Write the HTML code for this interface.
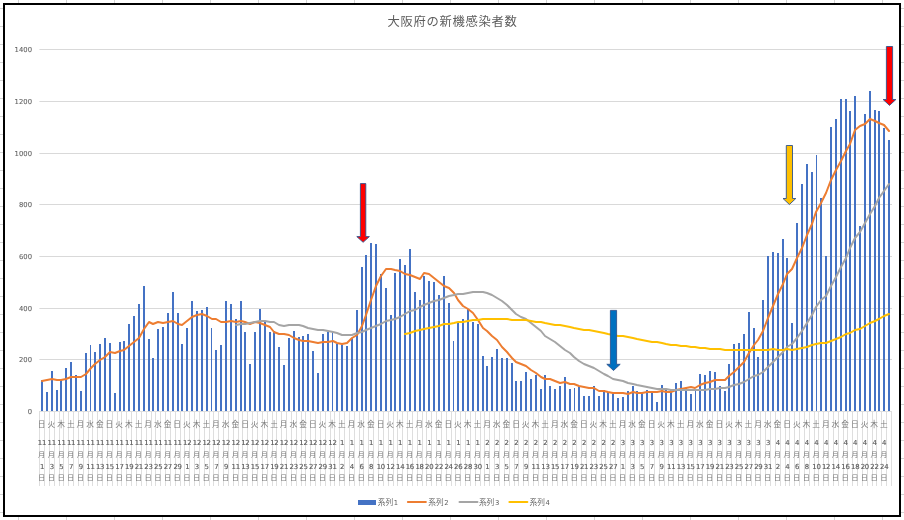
<!DOCTYPE html>
<html lang="ja"><head><meta charset="utf-8"><title>大阪府の新機感染者数</title>
<style>
html,body{margin:0;padding:0;background:#fff;}
body{width:904px;height:520px;overflow:hidden;position:relative;font-family:"Liberation Sans","Noto Sans CJK JP",sans-serif;}
svg text{font-family:"Liberation Sans","Noto Sans CJK JP",sans-serif;fill:#595959;}
.yl{font-family:"DejaVu Sans","Liberation Sans",sans-serif;font-size:6.8px;letter-spacing:0.1px;fill:#606060;stroke:#606060;stroke-width:0.08px;}
.xl text{font-family:"DejaVu Sans","Liberation Sans",sans-serif;font-size:6.9px;letter-spacing:-0.2px;fill:#5c5c5c;stroke:#5c5c5c;stroke-width:0.15px;}
.xl .k{font-family:"Liberation Sans","Noto Sans CJK JP",sans-serif;font-size:7.7px;letter-spacing:0;fill:#7a7a7a;stroke:none;}
.ti{font-size:12.3px;letter-spacing:0.68px;fill:#5c5c5c;}
.xl .s{font-size:7.3px;fill:#7c7c7c;}
.lg{font-size:7.7px;fill:#666;}
.ld{font-family:"DejaVu Sans","Liberation Sans",sans-serif;font-size:6.8px;fill:#606060;}
</style></head><body>
<svg width="904" height="520" viewBox="0 0 904 520" style="position:absolute;left:0;top:0">
<g fill="#d4d4d4" shape-rendering="crispEdges"><rect x="18" y="0" width="1" height="3"/><rect x="18" y="517" width="1" height="3"/><rect x="66" y="0" width="1" height="3"/><rect x="66" y="517" width="1" height="3"/><rect x="114" y="0" width="1" height="3"/><rect x="114" y="517" width="1" height="3"/><rect x="162" y="0" width="1" height="3"/><rect x="162" y="517" width="1" height="3"/><rect x="210" y="0" width="1" height="3"/><rect x="210" y="517" width="1" height="3"/><rect x="258" y="0" width="1" height="3"/><rect x="258" y="517" width="1" height="3"/><rect x="306" y="0" width="1" height="3"/><rect x="306" y="517" width="1" height="3"/><rect x="354" y="0" width="1" height="3"/><rect x="354" y="517" width="1" height="3"/><rect x="402" y="0" width="1" height="3"/><rect x="402" y="517" width="1" height="3"/><rect x="450" y="0" width="1" height="3"/><rect x="450" y="517" width="1" height="3"/><rect x="498" y="0" width="1" height="3"/><rect x="498" y="517" width="1" height="3"/><rect x="546" y="0" width="1" height="3"/><rect x="546" y="517" width="1" height="3"/><rect x="594" y="0" width="1" height="3"/><rect x="594" y="517" width="1" height="3"/><rect x="642" y="0" width="1" height="3"/><rect x="642" y="517" width="1" height="3"/><rect x="690" y="0" width="1" height="3"/><rect x="690" y="517" width="1" height="3"/><rect x="738" y="0" width="1" height="3"/><rect x="738" y="517" width="1" height="3"/><rect x="786" y="0" width="1" height="3"/><rect x="786" y="517" width="1" height="3"/><rect x="834" y="0" width="1" height="3"/><rect x="834" y="517" width="1" height="3"/><rect x="882" y="0" width="1" height="3"/><rect x="882" y="517" width="1" height="3"/><rect x="0" y="8" width="3" height="1"/><rect x="901" y="8" width="3" height="1"/><rect x="0" y="26" width="3" height="1"/><rect x="901" y="26" width="3" height="1"/><rect x="0" y="44" width="3" height="1"/><rect x="901" y="44" width="3" height="1"/><rect x="0" y="62" width="3" height="1"/><rect x="901" y="62" width="3" height="1"/><rect x="0" y="80" width="3" height="1"/><rect x="901" y="80" width="3" height="1"/><rect x="0" y="98" width="3" height="1"/><rect x="901" y="98" width="3" height="1"/><rect x="0" y="116" width="3" height="1"/><rect x="901" y="116" width="3" height="1"/><rect x="0" y="134" width="3" height="1"/><rect x="901" y="134" width="3" height="1"/><rect x="0" y="152" width="3" height="1"/><rect x="901" y="152" width="3" height="1"/><rect x="0" y="170" width="3" height="1"/><rect x="901" y="170" width="3" height="1"/><rect x="0" y="188" width="3" height="1"/><rect x="901" y="188" width="3" height="1"/><rect x="0" y="206" width="3" height="1"/><rect x="901" y="206" width="3" height="1"/><rect x="0" y="224" width="3" height="1"/><rect x="901" y="224" width="3" height="1"/><rect x="0" y="242" width="3" height="1"/><rect x="901" y="242" width="3" height="1"/><rect x="0" y="260" width="3" height="1"/><rect x="901" y="260" width="3" height="1"/><rect x="0" y="278" width="3" height="1"/><rect x="901" y="278" width="3" height="1"/><rect x="0" y="296" width="3" height="1"/><rect x="901" y="296" width="3" height="1"/><rect x="0" y="314" width="3" height="1"/><rect x="901" y="314" width="3" height="1"/><rect x="0" y="332" width="3" height="1"/><rect x="901" y="332" width="3" height="1"/><rect x="0" y="350" width="3" height="1"/><rect x="901" y="350" width="3" height="1"/><rect x="0" y="368" width="3" height="1"/><rect x="901" y="368" width="3" height="1"/><rect x="0" y="386" width="3" height="1"/><rect x="901" y="386" width="3" height="1"/><rect x="0" y="404" width="3" height="1"/><rect x="901" y="404" width="3" height="1"/><rect x="0" y="422" width="3" height="1"/><rect x="901" y="422" width="3" height="1"/><rect x="0" y="440" width="3" height="1"/><rect x="901" y="440" width="3" height="1"/><rect x="0" y="458" width="3" height="1"/><rect x="901" y="458" width="3" height="1"/><rect x="0" y="476" width="3" height="1"/><rect x="901" y="476" width="3" height="1"/><rect x="0" y="494" width="3" height="1"/><rect x="901" y="494" width="3" height="1"/><rect x="0" y="512" width="3" height="1"/><rect x="901" y="512" width="3" height="1"/></g>
<rect x="4" y="4" width="896" height="512" fill="#fff" stroke="#000" stroke-width="2" shape-rendering="crispEdges"/>
<g fill="#d9d9d9"><rect x="39.4" y="359" width="852.6" height="1"/><rect x="39.4" y="308" width="852.6" height="1"/><rect x="39.4" y="256" width="852.6" height="1"/><rect x="39.4" y="204" width="852.6" height="1"/><rect x="39.4" y="153" width="852.6" height="1"/><rect x="39.4" y="101" width="852.6" height="1"/><rect x="39.4" y="49" width="852.6" height="1"/></g>
<g fill="#dedede" shape-rendering="crispEdges"><rect x="39" y="411" width="853" height="1"/><rect x="39" y="411" width="1" height="75"/><rect x="44" y="411" width="1" height="75"/><rect x="49" y="411" width="1" height="75"/><rect x="54" y="411" width="1" height="75"/><rect x="59" y="411" width="1" height="75"/><rect x="63" y="411" width="1" height="75"/><rect x="68" y="411" width="1" height="75"/><rect x="73" y="411" width="1" height="75"/><rect x="78" y="411" width="1" height="75"/><rect x="83" y="411" width="1" height="75"/><rect x="88" y="411" width="1" height="75"/><rect x="92" y="411" width="1" height="75"/><rect x="97" y="411" width="1" height="75"/><rect x="102" y="411" width="1" height="75"/><rect x="107" y="411" width="1" height="75"/><rect x="112" y="411" width="1" height="75"/><rect x="117" y="411" width="1" height="75"/><rect x="121" y="411" width="1" height="75"/><rect x="126" y="411" width="1" height="75"/><rect x="131" y="411" width="1" height="75"/><rect x="136" y="411" width="1" height="75"/><rect x="141" y="411" width="1" height="75"/><rect x="146" y="411" width="1" height="75"/><rect x="151" y="411" width="1" height="75"/><rect x="155" y="411" width="1" height="75"/><rect x="160" y="411" width="1" height="75"/><rect x="165" y="411" width="1" height="75"/><rect x="170" y="411" width="1" height="75"/><rect x="175" y="411" width="1" height="75"/><rect x="180" y="411" width="1" height="75"/><rect x="184" y="411" width="1" height="75"/><rect x="189" y="411" width="1" height="75"/><rect x="194" y="411" width="1" height="75"/><rect x="199" y="411" width="1" height="75"/><rect x="204" y="411" width="1" height="75"/><rect x="209" y="411" width="1" height="75"/><rect x="213" y="411" width="1" height="75"/><rect x="218" y="411" width="1" height="75"/><rect x="223" y="411" width="1" height="75"/><rect x="228" y="411" width="1" height="75"/><rect x="233" y="411" width="1" height="75"/><rect x="238" y="411" width="1" height="75"/><rect x="242" y="411" width="1" height="75"/><rect x="247" y="411" width="1" height="75"/><rect x="252" y="411" width="1" height="75"/><rect x="257" y="411" width="1" height="75"/><rect x="262" y="411" width="1" height="75"/><rect x="267" y="411" width="1" height="75"/><rect x="272" y="411" width="1" height="75"/><rect x="276" y="411" width="1" height="75"/><rect x="281" y="411" width="1" height="75"/><rect x="286" y="411" width="1" height="75"/><rect x="291" y="411" width="1" height="75"/><rect x="296" y="411" width="1" height="75"/><rect x="301" y="411" width="1" height="75"/><rect x="305" y="411" width="1" height="75"/><rect x="310" y="411" width="1" height="75"/><rect x="315" y="411" width="1" height="75"/><rect x="320" y="411" width="1" height="75"/><rect x="325" y="411" width="1" height="75"/><rect x="330" y="411" width="1" height="75"/><rect x="334" y="411" width="1" height="75"/><rect x="339" y="411" width="1" height="75"/><rect x="344" y="411" width="1" height="75"/><rect x="349" y="411" width="1" height="75"/><rect x="354" y="411" width="1" height="75"/><rect x="359" y="411" width="1" height="75"/><rect x="363" y="411" width="1" height="75"/><rect x="368" y="411" width="1" height="75"/><rect x="373" y="411" width="1" height="75"/><rect x="378" y="411" width="1" height="75"/><rect x="383" y="411" width="1" height="75"/><rect x="388" y="411" width="1" height="75"/><rect x="393" y="411" width="1" height="75"/><rect x="397" y="411" width="1" height="75"/><rect x="402" y="411" width="1" height="75"/><rect x="407" y="411" width="1" height="75"/><rect x="412" y="411" width="1" height="75"/><rect x="417" y="411" width="1" height="75"/><rect x="422" y="411" width="1" height="75"/><rect x="426" y="411" width="1" height="75"/><rect x="431" y="411" width="1" height="75"/><rect x="436" y="411" width="1" height="75"/><rect x="441" y="411" width="1" height="75"/><rect x="446" y="411" width="1" height="75"/><rect x="451" y="411" width="1" height="75"/><rect x="455" y="411" width="1" height="75"/><rect x="460" y="411" width="1" height="75"/><rect x="465" y="411" width="1" height="75"/><rect x="470" y="411" width="1" height="75"/><rect x="475" y="411" width="1" height="75"/><rect x="480" y="411" width="1" height="75"/><rect x="484" y="411" width="1" height="75"/><rect x="489" y="411" width="1" height="75"/><rect x="494" y="411" width="1" height="75"/><rect x="499" y="411" width="1" height="75"/><rect x="504" y="411" width="1" height="75"/><rect x="509" y="411" width="1" height="75"/><rect x="514" y="411" width="1" height="75"/><rect x="518" y="411" width="1" height="75"/><rect x="523" y="411" width="1" height="75"/><rect x="528" y="411" width="1" height="75"/><rect x="533" y="411" width="1" height="75"/><rect x="538" y="411" width="1" height="75"/><rect x="543" y="411" width="1" height="75"/><rect x="547" y="411" width="1" height="75"/><rect x="552" y="411" width="1" height="75"/><rect x="557" y="411" width="1" height="75"/><rect x="562" y="411" width="1" height="75"/><rect x="567" y="411" width="1" height="75"/><rect x="572" y="411" width="1" height="75"/><rect x="576" y="411" width="1" height="75"/><rect x="581" y="411" width="1" height="75"/><rect x="586" y="411" width="1" height="75"/><rect x="591" y="411" width="1" height="75"/><rect x="596" y="411" width="1" height="75"/><rect x="601" y="411" width="1" height="75"/><rect x="605" y="411" width="1" height="75"/><rect x="610" y="411" width="1" height="75"/><rect x="615" y="411" width="1" height="75"/><rect x="620" y="411" width="1" height="75"/><rect x="625" y="411" width="1" height="75"/><rect x="630" y="411" width="1" height="75"/><rect x="634" y="411" width="1" height="75"/><rect x="639" y="411" width="1" height="75"/><rect x="644" y="411" width="1" height="75"/><rect x="649" y="411" width="1" height="75"/><rect x="654" y="411" width="1" height="75"/><rect x="659" y="411" width="1" height="75"/><rect x="664" y="411" width="1" height="75"/><rect x="668" y="411" width="1" height="75"/><rect x="673" y="411" width="1" height="75"/><rect x="678" y="411" width="1" height="75"/><rect x="683" y="411" width="1" height="75"/><rect x="688" y="411" width="1" height="75"/><rect x="693" y="411" width="1" height="75"/><rect x="697" y="411" width="1" height="75"/><rect x="702" y="411" width="1" height="75"/><rect x="707" y="411" width="1" height="75"/><rect x="712" y="411" width="1" height="75"/><rect x="717" y="411" width="1" height="75"/><rect x="722" y="411" width="1" height="75"/><rect x="726" y="411" width="1" height="75"/><rect x="731" y="411" width="1" height="75"/><rect x="736" y="411" width="1" height="75"/><rect x="741" y="411" width="1" height="75"/><rect x="746" y="411" width="1" height="75"/><rect x="751" y="411" width="1" height="75"/><rect x="755" y="411" width="1" height="75"/><rect x="760" y="411" width="1" height="75"/><rect x="765" y="411" width="1" height="75"/><rect x="770" y="411" width="1" height="75"/><rect x="775" y="411" width="1" height="75"/><rect x="780" y="411" width="1" height="75"/><rect x="785" y="411" width="1" height="75"/><rect x="789" y="411" width="1" height="75"/><rect x="794" y="411" width="1" height="75"/><rect x="799" y="411" width="1" height="75"/><rect x="804" y="411" width="1" height="75"/><rect x="809" y="411" width="1" height="75"/><rect x="814" y="411" width="1" height="75"/><rect x="818" y="411" width="1" height="75"/><rect x="823" y="411" width="1" height="75"/><rect x="828" y="411" width="1" height="75"/><rect x="833" y="411" width="1" height="75"/><rect x="838" y="411" width="1" height="75"/><rect x="843" y="411" width="1" height="75"/><rect x="847" y="411" width="1" height="75"/><rect x="852" y="411" width="1" height="75"/><rect x="857" y="411" width="1" height="75"/><rect x="862" y="411" width="1" height="75"/><rect x="867" y="411" width="1" height="75"/><rect x="872" y="411" width="1" height="75"/><rect x="876" y="411" width="1" height="75"/><rect x="881" y="411" width="1" height="75"/><rect x="886" y="411" width="1" height="75"/><rect x="891" y="411" width="1" height="75"/></g>
<text x="32.2" y="414.00" text-anchor="end" class="yl">0</text>
<text x="32.2" y="362.00" text-anchor="end" class="yl">200</text>
<text x="32.2" y="311.00" text-anchor="end" class="yl">400</text>
<text x="32.2" y="259.00" text-anchor="end" class="yl">600</text>
<text x="32.2" y="207.00" text-anchor="end" class="yl">800</text>
<text x="32.2" y="156.00" text-anchor="end" class="yl">1000</text>
<text x="32.2" y="104.00" text-anchor="end" class="yl">1200</text>
<text x="32.2" y="52.00" text-anchor="end" class="yl">1400</text>
<g fill="#4472c4" shape-rendering="crispEdges"><rect x="41" y="380" width="2" height="31"/><rect x="46" y="392" width="2" height="19"/><rect x="51" y="371" width="2" height="40"/><rect x="56" y="390" width="2" height="21"/><rect x="60" y="379" width="2" height="32"/><rect x="65" y="368" width="2" height="43"/><rect x="70" y="362" width="2" height="49"/><rect x="75" y="375" width="2" height="36"/><rect x="80" y="391" width="2" height="20"/><rect x="85" y="353" width="2" height="58"/><rect x="90" y="345" width="1" height="66"/><rect x="94" y="352" width="2" height="59"/><rect x="99" y="344" width="2" height="67"/><rect x="104" y="338" width="2" height="73"/><rect x="109" y="343" width="2" height="68"/><rect x="114" y="393" width="2" height="18"/><rect x="119" y="342" width="2" height="69"/><rect x="123" y="341" width="2" height="70"/><rect x="128" y="324" width="2" height="87"/><rect x="133" y="316" width="2" height="95"/><rect x="138" y="304" width="2" height="107"/><rect x="143" y="286" width="2" height="125"/><rect x="148" y="339" width="2" height="72"/><rect x="152" y="358" width="2" height="53"/><rect x="157" y="329" width="2" height="82"/><rect x="162" y="327" width="2" height="84"/><rect x="167" y="313" width="2" height="98"/><rect x="172" y="292" width="2" height="119"/><rect x="177" y="313" width="2" height="98"/><rect x="181" y="344" width="2" height="67"/><rect x="186" y="328" width="2" height="83"/><rect x="191" y="301" width="2" height="110"/><rect x="196" y="311" width="2" height="100"/><rect x="201" y="310" width="2" height="101"/><rect x="206" y="307" width="2" height="104"/><rect x="211" y="328" width="1" height="83"/><rect x="215" y="350" width="2" height="61"/><rect x="220" y="345" width="2" height="66"/><rect x="225" y="301" width="2" height="110"/><rect x="230" y="304" width="2" height="107"/><rect x="235" y="319" width="2" height="92"/><rect x="240" y="301" width="2" height="110"/><rect x="244" y="332" width="2" height="79"/><rect x="249" y="364" width="2" height="47"/><rect x="254" y="332" width="2" height="79"/><rect x="259" y="309" width="2" height="102"/><rect x="264" y="321" width="2" height="90"/><rect x="269" y="332" width="2" height="79"/><rect x="273" y="331" width="2" height="80"/><rect x="278" y="347" width="2" height="64"/><rect x="283" y="365" width="2" height="46"/><rect x="288" y="338" width="2" height="73"/><rect x="293" y="331" width="2" height="80"/><rect x="298" y="337" width="2" height="74"/><rect x="302" y="336" width="2" height="75"/><rect x="307" y="334" width="2" height="77"/><rect x="312" y="351" width="2" height="60"/><rect x="317" y="373" width="2" height="38"/><rect x="322" y="334" width="2" height="77"/><rect x="327" y="332" width="2" height="79"/><rect x="332" y="331" width="1" height="80"/><rect x="336" y="344" width="2" height="67"/><rect x="341" y="345" width="2" height="66"/><rect x="346" y="346" width="2" height="65"/><rect x="351" y="338" width="2" height="73"/><rect x="356" y="310" width="2" height="101"/><rect x="361" y="267" width="2" height="144"/><rect x="365" y="255" width="2" height="156"/><rect x="370" y="243" width="2" height="168"/><rect x="375" y="244" width="2" height="167"/><rect x="380" y="274" width="2" height="137"/><rect x="385" y="288" width="2" height="123"/><rect x="390" y="315" width="2" height="96"/><rect x="394" y="273" width="2" height="138"/><rect x="399" y="259" width="2" height="152"/><rect x="404" y="265" width="2" height="146"/><rect x="409" y="249" width="2" height="162"/><rect x="414" y="292" width="2" height="119"/><rect x="419" y="300" width="2" height="111"/><rect x="423" y="276" width="2" height="135"/><rect x="428" y="281" width="2" height="130"/><rect x="433" y="282" width="2" height="129"/><rect x="438" y="295" width="2" height="116"/><rect x="443" y="276" width="2" height="135"/><rect x="448" y="303" width="2" height="108"/><rect x="453" y="341" width="1" height="70"/><rect x="457" y="323" width="2" height="88"/><rect x="462" y="319" width="2" height="92"/><rect x="467" y="309" width="2" height="102"/><rect x="472" y="322" width="2" height="89"/><rect x="477" y="324" width="2" height="87"/><rect x="482" y="356" width="2" height="55"/><rect x="486" y="366" width="2" height="45"/><rect x="491" y="357" width="2" height="54"/><rect x="496" y="349" width="2" height="62"/><rect x="501" y="358" width="2" height="53"/><rect x="506" y="358" width="2" height="53"/><rect x="511" y="363" width="2" height="48"/><rect x="515" y="381" width="2" height="30"/><rect x="520" y="381" width="2" height="30"/><rect x="525" y="372" width="2" height="39"/><rect x="530" y="379" width="2" height="32"/><rect x="535" y="375" width="2" height="36"/><rect x="540" y="389" width="2" height="22"/><rect x="544" y="375" width="2" height="36"/><rect x="549" y="386" width="2" height="25"/><rect x="554" y="389" width="2" height="22"/><rect x="559" y="386" width="2" height="25"/><rect x="564" y="377" width="2" height="34"/><rect x="569" y="389" width="2" height="22"/><rect x="574" y="388" width="1" height="23"/><rect x="578" y="387" width="2" height="24"/><rect x="583" y="396" width="2" height="15"/><rect x="588" y="396" width="2" height="15"/><rect x="593" y="386" width="2" height="25"/><rect x="598" y="396" width="2" height="15"/><rect x="603" y="390" width="2" height="21"/><rect x="607" y="392" width="2" height="19"/><rect x="612" y="394" width="2" height="17"/><rect x="617" y="398" width="2" height="13"/><rect x="622" y="397" width="2" height="14"/><rect x="627" y="391" width="2" height="20"/><rect x="632" y="386" width="2" height="25"/><rect x="636" y="391" width="2" height="20"/><rect x="641" y="392" width="2" height="19"/><rect x="646" y="390" width="2" height="21"/><rect x="651" y="393" width="2" height="18"/><rect x="656" y="402" width="2" height="9"/><rect x="661" y="385" width="2" height="26"/><rect x="665" y="390" width="2" height="21"/><rect x="670" y="389" width="2" height="22"/><rect x="675" y="383" width="2" height="28"/><rect x="680" y="381" width="2" height="30"/><rect x="685" y="388" width="2" height="23"/><rect x="690" y="394" width="2" height="17"/><rect x="695" y="389" width="1" height="22"/><rect x="699" y="374" width="2" height="37"/><rect x="704" y="375" width="2" height="36"/><rect x="709" y="371" width="2" height="40"/><rect x="714" y="372" width="2" height="39"/><rect x="719" y="386" width="2" height="25"/><rect x="724" y="391" width="2" height="20"/><rect x="728" y="364" width="2" height="47"/><rect x="733" y="344" width="2" height="67"/><rect x="738" y="343" width="2" height="68"/><rect x="743" y="334" width="2" height="77"/><rect x="748" y="312" width="2" height="99"/><rect x="753" y="328" width="2" height="83"/><rect x="757" y="357" width="2" height="54"/><rect x="762" y="300" width="2" height="111"/><rect x="767" y="256" width="2" height="155"/><rect x="772" y="252" width="2" height="159"/><rect x="777" y="253" width="2" height="158"/><rect x="782" y="239" width="2" height="172"/><rect x="786" y="258" width="2" height="153"/><rect x="791" y="323" width="2" height="88"/><rect x="796" y="223" width="2" height="188"/><rect x="801" y="184" width="2" height="227"/><rect x="806" y="164" width="2" height="247"/><rect x="811" y="172" width="2" height="239"/><rect x="816" y="155" width="1" height="256"/><rect x="820" y="198" width="2" height="213"/><rect x="825" y="256" width="2" height="155"/><rect x="830" y="127" width="2" height="284"/><rect x="835" y="119" width="2" height="292"/><rect x="840" y="99" width="2" height="312"/><rect x="845" y="99" width="2" height="312"/><rect x="849" y="111" width="2" height="300"/><rect x="854" y="96" width="2" height="315"/><rect x="859" y="226" width="2" height="185"/><rect x="864" y="114" width="2" height="297"/><rect x="869" y="91" width="2" height="320"/><rect x="874" y="110" width="2" height="301"/><rect x="878" y="111" width="2" height="300"/><rect x="883" y="128" width="2" height="283"/><rect x="888" y="140" width="2" height="271"/></g>
<polyline points="42,381 47,380 52,379 57,380 61,380 66,379 71,377 76,377 81,377 86,374 91,368 95,364 100,360 105,357 110,352 115,353 120,351 124,350 129,346 134,342 139,338 144,329 149,322 153,324 158,322 163,323 168,322 173,321 178,324 182,325 187,321 192,317 197,315 202,314 207,316 212,319 216,319 221,322 226,322 231,321 236,322 241,321 245,322 250,324 255,322 260,323 265,325 270,327 274,332 279,334 284,334 289,335 294,338 299,340 303,341 308,341 313,342 318,343 323,342 328,342 333,341 337,343 342,344 347,343 352,338 357,335 362,326 366,315 371,300 376,286 381,276 386,269 391,269 395,270 400,271 405,274 410,275 415,277 420,279 424,273 429,274 434,278 439,282 444,286 449,288 454,293 458,300 463,306 468,309 473,313 478,320 483,328 487,331 492,336 497,340 502,347 507,352 512,358 516,362 521,364 526,366 531,370 536,373 541,377 545,379 550,379 555,381 560,383 565,382 570,384 574,384 579,386 584,387 589,388 594,388 599,391 604,391 608,392 613,393 618,393 623,393 628,394 633,392 637,393 642,393 647,392 652,392 657,392 662,391 666,392 671,392 676,390 681,389 686,388 691,387 695,388 700,385 705,383 710,382 715,380 720,380 725,380 729,376 734,372 739,367 744,362 749,353 754,345 758,340 763,331 768,318 773,306 778,294 783,284 787,274 792,269 797,258 802,248 807,235 812,224 816,212 821,203 826,193 831,180 836,170 841,161 846,151 850,144 855,130 860,126 865,124 870,119 875,121 879,123 884,125 889,131" fill="none" stroke="#ed7d31" stroke-width="2.0" stroke-linejoin="round" stroke-linecap="round"/>
<polyline points="236,325 241,324 245,324 250,323 255,322 260,321 265,321 270,322 274,322 279,325 284,326 289,325 294,325 299,325 303,326 308,328 313,329 318,330 323,330 328,331 333,332 337,333 342,335 347,335 352,335 357,333 362,332 366,330 371,328 376,326 381,324 386,321 391,320 395,319 400,317 405,314 410,311 415,310 420,307 424,305 429,303 434,301 439,300 444,298 449,296 454,295 458,294 463,294 468,293 473,292 478,292 483,292 487,293 492,295 497,298 502,301 507,305 512,310 516,314 521,317 526,319 531,323 536,327 541,331 545,336 550,339 555,342 560,346 565,350 570,353 574,357 579,361 584,364 589,366 594,368 599,371 604,374 608,376 613,379 618,380 623,381 628,383 633,384 637,385 642,386 647,387 652,388 657,389 662,389 666,389 671,390 676,390 681,390 686,390 691,390 695,390 700,390 705,390 710,389 715,389 720,388 725,388 729,387 734,385 739,384 744,382 749,379 754,376 758,375 763,372 768,367 773,362 778,357 783,352 787,347 792,344 797,338 802,331 807,323 812,315 816,307 821,300 826,296 831,286 836,277 841,267 846,258 850,248 855,238 860,232 865,223 870,214 875,206 879,198 884,191 889,184" fill="none" stroke="#a5a5a5" stroke-width="2.0" stroke-linejoin="round" stroke-linecap="round"/>
<polyline points="405,334 410,333 415,331 420,330 424,329 429,328 434,327 439,326 444,324 449,324 454,323 458,322 463,322 468,321 473,320 478,320 483,319 487,319 492,319 497,319 502,319 507,319 512,320 516,320 521,320 526,320 531,321 536,322 541,322 545,323 550,324 555,325 560,325 565,326 570,327 574,328 579,329 584,330 589,330 594,331 599,332 604,333 608,334 613,335 618,336 623,336 628,337 633,338 637,339 642,340 647,341 652,342 657,342 662,343 666,344 671,345 676,345 681,346 686,346 691,347 695,347 700,348 705,348 710,349 715,349 720,349 725,350 729,350 734,350 739,350 744,350 749,350 754,350 758,350 763,350 768,350 773,349 778,350 783,350 787,349 792,350 797,349 802,348 807,347 812,345 816,344 821,343 826,343 831,341 836,339 841,337 846,334 850,333 855,330 860,329 865,326 870,323 875,321 879,319 884,316 889,314" fill="none" stroke="#ffc000" stroke-width="2.0" stroke-linejoin="round" stroke-linecap="round"/>
<g class="xl" text-anchor="middle"><text class="k" x="41.70" y="427">日</text><text x="42.05" y="444.9">11</text><text class="k s" x="41.70" y="456.8">月</text><text x="42.05" y="469">1</text><text class="k s" x="41.70" y="480.3">日</text><text class="k" x="51.38" y="427">火</text><text x="51.73" y="444.9">11</text><text class="k s" x="51.38" y="456.8">月</text><text x="51.73" y="469">3</text><text class="k s" x="51.38" y="480.3">日</text><text class="k" x="61.06" y="427">木</text><text x="61.41" y="444.9">11</text><text class="k s" x="61.06" y="456.8">月</text><text x="61.41" y="469">5</text><text class="k s" x="61.06" y="480.3">日</text><text class="k" x="70.74" y="427">土</text><text x="71.09" y="444.9">11</text><text class="k s" x="70.74" y="456.8">月</text><text x="71.09" y="469">7</text><text class="k s" x="70.74" y="480.3">日</text><text class="k" x="80.42" y="427">月</text><text x="80.77" y="444.9">11</text><text class="k s" x="80.42" y="456.8">月</text><text x="80.77" y="469">9</text><text class="k s" x="80.42" y="480.3">日</text><text class="k" x="90.10" y="427">水</text><text x="90.45" y="444.9">11</text><text class="k s" x="90.10" y="456.8">月</text><text x="90.45" y="469">11</text><text class="k s" x="90.10" y="480.3">日</text><text class="k" x="99.78" y="427">金</text><text x="100.13" y="444.9">11</text><text class="k s" x="99.78" y="456.8">月</text><text x="100.13" y="469">13</text><text class="k s" x="99.78" y="480.3">日</text><text class="k" x="109.46" y="427">日</text><text x="109.81" y="444.9">11</text><text class="k s" x="109.46" y="456.8">月</text><text x="109.81" y="469">15</text><text class="k s" x="109.46" y="480.3">日</text><text class="k" x="119.14" y="427">火</text><text x="119.49" y="444.9">11</text><text class="k s" x="119.14" y="456.8">月</text><text x="119.49" y="469">17</text><text class="k s" x="119.14" y="480.3">日</text><text class="k" x="128.82" y="427">木</text><text x="129.17" y="444.9">11</text><text class="k s" x="128.82" y="456.8">月</text><text x="129.17" y="469">19</text><text class="k s" x="128.82" y="480.3">日</text><text class="k" x="138.50" y="427">土</text><text x="138.85" y="444.9">11</text><text class="k s" x="138.50" y="456.8">月</text><text x="138.85" y="469">21</text><text class="k s" x="138.50" y="480.3">日</text><text class="k" x="148.18" y="427">月</text><text x="148.53" y="444.9">11</text><text class="k s" x="148.18" y="456.8">月</text><text x="148.53" y="469">23</text><text class="k s" x="148.18" y="480.3">日</text><text class="k" x="157.86" y="427">水</text><text x="158.21" y="444.9">11</text><text class="k s" x="157.86" y="456.8">月</text><text x="158.21" y="469">25</text><text class="k s" x="157.86" y="480.3">日</text><text class="k" x="167.54" y="427">金</text><text x="167.89" y="444.9">11</text><text class="k s" x="167.54" y="456.8">月</text><text x="167.89" y="469">27</text><text class="k s" x="167.54" y="480.3">日</text><text class="k" x="177.22" y="427">日</text><text x="177.57" y="444.9">11</text><text class="k s" x="177.22" y="456.8">月</text><text x="177.57" y="469">29</text><text class="k s" x="177.22" y="480.3">日</text><text class="k" x="186.90" y="427">火</text><text x="187.25" y="444.9">12</text><text class="k s" x="186.90" y="456.8">月</text><text x="187.25" y="469">1</text><text class="k s" x="186.90" y="480.3">日</text><text class="k" x="196.58" y="427">木</text><text x="196.93" y="444.9">12</text><text class="k s" x="196.58" y="456.8">月</text><text x="196.93" y="469">3</text><text class="k s" x="196.58" y="480.3">日</text><text class="k" x="206.26" y="427">土</text><text x="206.61" y="444.9">12</text><text class="k s" x="206.26" y="456.8">月</text><text x="206.61" y="469">5</text><text class="k s" x="206.26" y="480.3">日</text><text class="k" x="215.94" y="427">月</text><text x="216.29" y="444.9">12</text><text class="k s" x="215.94" y="456.8">月</text><text x="216.29" y="469">7</text><text class="k s" x="215.94" y="480.3">日</text><text class="k" x="225.62" y="427">水</text><text x="225.97" y="444.9">12</text><text class="k s" x="225.62" y="456.8">月</text><text x="225.97" y="469">9</text><text class="k s" x="225.62" y="480.3">日</text><text class="k" x="235.30" y="427">金</text><text x="235.65" y="444.9">12</text><text class="k s" x="235.30" y="456.8">月</text><text x="235.65" y="469">11</text><text class="k s" x="235.30" y="480.3">日</text><text class="k" x="244.98" y="427">日</text><text x="245.33" y="444.9">12</text><text class="k s" x="244.98" y="456.8">月</text><text x="245.33" y="469">13</text><text class="k s" x="244.98" y="480.3">日</text><text class="k" x="254.66" y="427">火</text><text x="255.01" y="444.9">12</text><text class="k s" x="254.66" y="456.8">月</text><text x="255.01" y="469">15</text><text class="k s" x="254.66" y="480.3">日</text><text class="k" x="264.34" y="427">木</text><text x="264.69" y="444.9">12</text><text class="k s" x="264.34" y="456.8">月</text><text x="264.69" y="469">17</text><text class="k s" x="264.34" y="480.3">日</text><text class="k" x="274.02" y="427">土</text><text x="274.37" y="444.9">12</text><text class="k s" x="274.02" y="456.8">月</text><text x="274.37" y="469">19</text><text class="k s" x="274.02" y="480.3">日</text><text class="k" x="283.70" y="427">月</text><text x="284.05" y="444.9">12</text><text class="k s" x="283.70" y="456.8">月</text><text x="284.05" y="469">21</text><text class="k s" x="283.70" y="480.3">日</text><text class="k" x="293.38" y="427">水</text><text x="293.73" y="444.9">12</text><text class="k s" x="293.38" y="456.8">月</text><text x="293.73" y="469">23</text><text class="k s" x="293.38" y="480.3">日</text><text class="k" x="303.06" y="427">金</text><text x="303.41" y="444.9">12</text><text class="k s" x="303.06" y="456.8">月</text><text x="303.41" y="469">25</text><text class="k s" x="303.06" y="480.3">日</text><text class="k" x="312.74" y="427">日</text><text x="313.09" y="444.9">12</text><text class="k s" x="312.74" y="456.8">月</text><text x="313.09" y="469">27</text><text class="k s" x="312.74" y="480.3">日</text><text class="k" x="322.42" y="427">火</text><text x="322.77" y="444.9">12</text><text class="k s" x="322.42" y="456.8">月</text><text x="322.77" y="469">29</text><text class="k s" x="322.42" y="480.3">日</text><text class="k" x="332.10" y="427">木</text><text x="332.45" y="444.9">12</text><text class="k s" x="332.10" y="456.8">月</text><text x="332.45" y="469">31</text><text class="k s" x="332.10" y="480.3">日</text><text class="k" x="341.78" y="427">土</text><text x="342.13" y="444.9">1</text><text class="k s" x="341.78" y="456.8">月</text><text x="342.13" y="469">2</text><text class="k s" x="341.78" y="480.3">日</text><text class="k" x="351.46" y="427">月</text><text x="351.81" y="444.9">1</text><text class="k s" x="351.46" y="456.8">月</text><text x="351.81" y="469">4</text><text class="k s" x="351.46" y="480.3">日</text><text class="k" x="361.14" y="427">水</text><text x="361.49" y="444.9">1</text><text class="k s" x="361.14" y="456.8">月</text><text x="361.49" y="469">6</text><text class="k s" x="361.14" y="480.3">日</text><text class="k" x="370.82" y="427">金</text><text x="371.17" y="444.9">1</text><text class="k s" x="370.82" y="456.8">月</text><text x="371.17" y="469">8</text><text class="k s" x="370.82" y="480.3">日</text><text class="k" x="380.50" y="427">日</text><text x="380.85" y="444.9">1</text><text class="k s" x="380.50" y="456.8">月</text><text x="380.85" y="469">10</text><text class="k s" x="380.50" y="480.3">日</text><text class="k" x="390.18" y="427">火</text><text x="390.53" y="444.9">1</text><text class="k s" x="390.18" y="456.8">月</text><text x="390.53" y="469">12</text><text class="k s" x="390.18" y="480.3">日</text><text class="k" x="399.86" y="427">木</text><text x="400.21" y="444.9">1</text><text class="k s" x="399.86" y="456.8">月</text><text x="400.21" y="469">14</text><text class="k s" x="399.86" y="480.3">日</text><text class="k" x="409.54" y="427">土</text><text x="409.89" y="444.9">1</text><text class="k s" x="409.54" y="456.8">月</text><text x="409.89" y="469">16</text><text class="k s" x="409.54" y="480.3">日</text><text class="k" x="419.22" y="427">月</text><text x="419.57" y="444.9">1</text><text class="k s" x="419.22" y="456.8">月</text><text x="419.57" y="469">18</text><text class="k s" x="419.22" y="480.3">日</text><text class="k" x="428.90" y="427">水</text><text x="429.25" y="444.9">1</text><text class="k s" x="428.90" y="456.8">月</text><text x="429.25" y="469">20</text><text class="k s" x="428.90" y="480.3">日</text><text class="k" x="438.58" y="427">金</text><text x="438.93" y="444.9">1</text><text class="k s" x="438.58" y="456.8">月</text><text x="438.93" y="469">22</text><text class="k s" x="438.58" y="480.3">日</text><text class="k" x="448.26" y="427">日</text><text x="448.61" y="444.9">1</text><text class="k s" x="448.26" y="456.8">月</text><text x="448.61" y="469">24</text><text class="k s" x="448.26" y="480.3">日</text><text class="k" x="457.94" y="427">火</text><text x="458.29" y="444.9">1</text><text class="k s" x="457.94" y="456.8">月</text><text x="458.29" y="469">26</text><text class="k s" x="457.94" y="480.3">日</text><text class="k" x="467.62" y="427">木</text><text x="467.97" y="444.9">1</text><text class="k s" x="467.62" y="456.8">月</text><text x="467.97" y="469">28</text><text class="k s" x="467.62" y="480.3">日</text><text class="k" x="477.30" y="427">土</text><text x="477.65" y="444.9">1</text><text class="k s" x="477.30" y="456.8">月</text><text x="477.65" y="469">30</text><text class="k s" x="477.30" y="480.3">日</text><text class="k" x="486.98" y="427">月</text><text x="487.33" y="444.9">2</text><text class="k s" x="486.98" y="456.8">月</text><text x="487.33" y="469">1</text><text class="k s" x="486.98" y="480.3">日</text><text class="k" x="496.66" y="427">水</text><text x="497.01" y="444.9">2</text><text class="k s" x="496.66" y="456.8">月</text><text x="497.01" y="469">3</text><text class="k s" x="496.66" y="480.3">日</text><text class="k" x="506.34" y="427">金</text><text x="506.69" y="444.9">2</text><text class="k s" x="506.34" y="456.8">月</text><text x="506.69" y="469">5</text><text class="k s" x="506.34" y="480.3">日</text><text class="k" x="516.02" y="427">日</text><text x="516.37" y="444.9">2</text><text class="k s" x="516.02" y="456.8">月</text><text x="516.37" y="469">7</text><text class="k s" x="516.02" y="480.3">日</text><text class="k" x="525.70" y="427">火</text><text x="526.05" y="444.9">2</text><text class="k s" x="525.70" y="456.8">月</text><text x="526.05" y="469">9</text><text class="k s" x="525.70" y="480.3">日</text><text class="k" x="535.38" y="427">木</text><text x="535.73" y="444.9">2</text><text class="k s" x="535.38" y="456.8">月</text><text x="535.73" y="469">11</text><text class="k s" x="535.38" y="480.3">日</text><text class="k" x="545.06" y="427">土</text><text x="545.41" y="444.9">2</text><text class="k s" x="545.06" y="456.8">月</text><text x="545.41" y="469">13</text><text class="k s" x="545.06" y="480.3">日</text><text class="k" x="554.74" y="427">月</text><text x="555.09" y="444.9">2</text><text class="k s" x="554.74" y="456.8">月</text><text x="555.09" y="469">15</text><text class="k s" x="554.74" y="480.3">日</text><text class="k" x="564.42" y="427">水</text><text x="564.77" y="444.9">2</text><text class="k s" x="564.42" y="456.8">月</text><text x="564.77" y="469">17</text><text class="k s" x="564.42" y="480.3">日</text><text class="k" x="574.10" y="427">金</text><text x="574.45" y="444.9">2</text><text class="k s" x="574.10" y="456.8">月</text><text x="574.45" y="469">19</text><text class="k s" x="574.10" y="480.3">日</text><text class="k" x="583.78" y="427">日</text><text x="584.13" y="444.9">2</text><text class="k s" x="583.78" y="456.8">月</text><text x="584.13" y="469">21</text><text class="k s" x="583.78" y="480.3">日</text><text class="k" x="593.46" y="427">火</text><text x="593.81" y="444.9">2</text><text class="k s" x="593.46" y="456.8">月</text><text x="593.81" y="469">23</text><text class="k s" x="593.46" y="480.3">日</text><text class="k" x="603.14" y="427">木</text><text x="603.49" y="444.9">2</text><text class="k s" x="603.14" y="456.8">月</text><text x="603.49" y="469">25</text><text class="k s" x="603.14" y="480.3">日</text><text class="k" x="612.82" y="427">土</text><text x="613.17" y="444.9">2</text><text class="k s" x="612.82" y="456.8">月</text><text x="613.17" y="469">27</text><text class="k s" x="612.82" y="480.3">日</text><text class="k" x="622.50" y="427">月</text><text x="622.85" y="444.9">3</text><text class="k s" x="622.50" y="456.8">月</text><text x="622.85" y="469">1</text><text class="k s" x="622.50" y="480.3">日</text><text class="k" x="632.18" y="427">水</text><text x="632.53" y="444.9">3</text><text class="k s" x="632.18" y="456.8">月</text><text x="632.53" y="469">3</text><text class="k s" x="632.18" y="480.3">日</text><text class="k" x="641.86" y="427">金</text><text x="642.21" y="444.9">3</text><text class="k s" x="641.86" y="456.8">月</text><text x="642.21" y="469">5</text><text class="k s" x="641.86" y="480.3">日</text><text class="k" x="651.54" y="427">日</text><text x="651.89" y="444.9">3</text><text class="k s" x="651.54" y="456.8">月</text><text x="651.89" y="469">7</text><text class="k s" x="651.54" y="480.3">日</text><text class="k" x="661.22" y="427">火</text><text x="661.57" y="444.9">3</text><text class="k s" x="661.22" y="456.8">月</text><text x="661.57" y="469">9</text><text class="k s" x="661.22" y="480.3">日</text><text class="k" x="670.90" y="427">木</text><text x="671.25" y="444.9">3</text><text class="k s" x="670.90" y="456.8">月</text><text x="671.25" y="469">11</text><text class="k s" x="670.90" y="480.3">日</text><text class="k" x="680.58" y="427">土</text><text x="680.93" y="444.9">3</text><text class="k s" x="680.58" y="456.8">月</text><text x="680.93" y="469">13</text><text class="k s" x="680.58" y="480.3">日</text><text class="k" x="690.26" y="427">月</text><text x="690.61" y="444.9">3</text><text class="k s" x="690.26" y="456.8">月</text><text x="690.61" y="469">15</text><text class="k s" x="690.26" y="480.3">日</text><text class="k" x="699.94" y="427">水</text><text x="700.29" y="444.9">3</text><text class="k s" x="699.94" y="456.8">月</text><text x="700.29" y="469">17</text><text class="k s" x="699.94" y="480.3">日</text><text class="k" x="709.62" y="427">金</text><text x="709.97" y="444.9">3</text><text class="k s" x="709.62" y="456.8">月</text><text x="709.97" y="469">19</text><text class="k s" x="709.62" y="480.3">日</text><text class="k" x="719.30" y="427">日</text><text x="719.65" y="444.9">3</text><text class="k s" x="719.30" y="456.8">月</text><text x="719.65" y="469">21</text><text class="k s" x="719.30" y="480.3">日</text><text class="k" x="728.98" y="427">火</text><text x="729.33" y="444.9">3</text><text class="k s" x="728.98" y="456.8">月</text><text x="729.33" y="469">23</text><text class="k s" x="728.98" y="480.3">日</text><text class="k" x="738.66" y="427">木</text><text x="739.01" y="444.9">3</text><text class="k s" x="738.66" y="456.8">月</text><text x="739.01" y="469">25</text><text class="k s" x="738.66" y="480.3">日</text><text class="k" x="748.34" y="427">土</text><text x="748.69" y="444.9">3</text><text class="k s" x="748.34" y="456.8">月</text><text x="748.69" y="469">27</text><text class="k s" x="748.34" y="480.3">日</text><text class="k" x="758.02" y="427">月</text><text x="758.37" y="444.9">3</text><text class="k s" x="758.02" y="456.8">月</text><text x="758.37" y="469">29</text><text class="k s" x="758.02" y="480.3">日</text><text class="k" x="767.70" y="427">水</text><text x="768.05" y="444.9">3</text><text class="k s" x="767.70" y="456.8">月</text><text x="768.05" y="469">31</text><text class="k s" x="767.70" y="480.3">日</text><text class="k" x="777.38" y="427">金</text><text x="777.73" y="444.9">4</text><text class="k s" x="777.38" y="456.8">月</text><text x="777.73" y="469">2</text><text class="k s" x="777.38" y="480.3">日</text><text class="k" x="787.06" y="427">日</text><text x="787.41" y="444.9">4</text><text class="k s" x="787.06" y="456.8">月</text><text x="787.41" y="469">4</text><text class="k s" x="787.06" y="480.3">日</text><text class="k" x="796.74" y="427">火</text><text x="797.09" y="444.9">4</text><text class="k s" x="796.74" y="456.8">月</text><text x="797.09" y="469">6</text><text class="k s" x="796.74" y="480.3">日</text><text class="k" x="806.42" y="427">木</text><text x="806.77" y="444.9">4</text><text class="k s" x="806.42" y="456.8">月</text><text x="806.77" y="469">8</text><text class="k s" x="806.42" y="480.3">日</text><text class="k" x="816.10" y="427">土</text><text x="816.45" y="444.9">4</text><text class="k s" x="816.10" y="456.8">月</text><text x="816.45" y="469">10</text><text class="k s" x="816.10" y="480.3">日</text><text class="k" x="825.78" y="427">月</text><text x="826.13" y="444.9">4</text><text class="k s" x="825.78" y="456.8">月</text><text x="826.13" y="469">12</text><text class="k s" x="825.78" y="480.3">日</text><text class="k" x="835.46" y="427">水</text><text x="835.81" y="444.9">4</text><text class="k s" x="835.46" y="456.8">月</text><text x="835.81" y="469">14</text><text class="k s" x="835.46" y="480.3">日</text><text class="k" x="845.14" y="427">金</text><text x="845.49" y="444.9">4</text><text class="k s" x="845.14" y="456.8">月</text><text x="845.49" y="469">16</text><text class="k s" x="845.14" y="480.3">日</text><text class="k" x="854.82" y="427">日</text><text x="855.17" y="444.9">4</text><text class="k s" x="854.82" y="456.8">月</text><text x="855.17" y="469">18</text><text class="k s" x="854.82" y="480.3">日</text><text class="k" x="864.50" y="427">火</text><text x="864.85" y="444.9">4</text><text class="k s" x="864.50" y="456.8">月</text><text x="864.85" y="469">20</text><text class="k s" x="864.50" y="480.3">日</text><text class="k" x="874.18" y="427">木</text><text x="874.53" y="444.9">4</text><text class="k s" x="874.18" y="456.8">月</text><text x="874.53" y="469">22</text><text class="k s" x="874.18" y="480.3">日</text><text class="k" x="883.86" y="427">土</text><text x="884.21" y="444.9">4</text><text class="k s" x="883.86" y="456.8">月</text><text x="884.21" y="469">24</text><text class="k s" x="883.86" y="480.3">日</text></g>
<path d="M360.40 183.6H365.80V236.6H369.40L363.1 242.3L356.80 236.6H360.40Z" fill="#ff0000" stroke="#2f528f" stroke-width="0.9" stroke-linejoin="miter"/>
<path d="M610.40 310.4H616.60V364.3H620.20L613.5 370.5L606.80 364.3H610.40Z" fill="#0070c0" stroke="#2f528f" stroke-width="0.9" stroke-linejoin="miter"/>
<path d="M786.30 145.5H792.50V198.5H795.80L789.4 204.5L783.00 198.5H786.30Z" fill="#ffc000" stroke="#2f528f" stroke-width="0.9" stroke-linejoin="miter"/>
<path d="M886.40 46.5H892.60V99.5H895.90L889.5 105.4L883.10 99.5H886.40Z" fill="#ff0000" stroke="#2f528f" stroke-width="0.9" stroke-linejoin="miter"/>
<text x="387.6" y="25.6" class="ti">大阪府の新機感染者数</text>
<rect x="358" y="500" width="18" height="5" fill="#4472c4" shape-rendering="crispEdges"/>
<text x="377.8" y="504.9" class="lg">系列<tspan class="ld" dx="0.6">1</tspan></text>
<line x1="407.9" x2="425.9" y1="502" y2="502" stroke="#ed7d31" stroke-width="2" stroke-linecap="round"/>
<text x="428.3" y="504.9" class="lg">系列<tspan class="ld" dx="0.6">2</tspan></text>
<line x1="459.5" x2="477.5" y1="502" y2="502" stroke="#a5a5a5" stroke-width="2" stroke-linecap="round"/>
<text x="478.9" y="504.9" class="lg">系列<tspan class="ld" dx="0.6">3</tspan></text>
<line x1="509.4" x2="527.4" y1="502" y2="502" stroke="#ffc000" stroke-width="2" stroke-linecap="round"/>
<text x="529.5" y="504.9" class="lg">系列<tspan class="ld" dx="0.6">4</tspan></text>
</svg>
</body></html>
